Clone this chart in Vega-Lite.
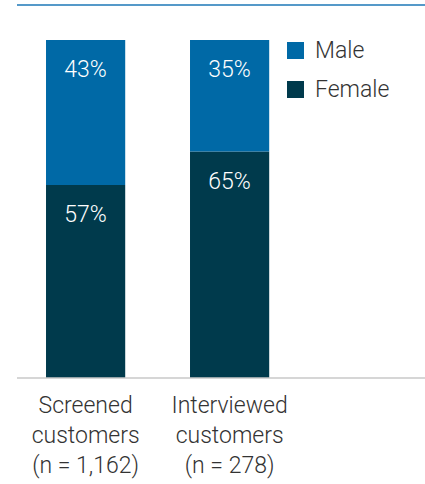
{
  "$schema": "https://vega.github.io/schema/vega-lite/v6.json",
  "autosize": {"type": "none"},
  "padding": {"left": 17, "top": 5, "right": 0, "bottom": 106},
  "width": 408,
  "height": 373,
  "background": "white",
  "config": {
    "view": {"stroke": null},
    "font": "Roboto"
  },
  "data": {
    "values": [
      {"group": "Screened customers (n = 1,162)", "sex": "Female", "share": 0.571, "label": "57%"},
      {"group": "Screened customers (n = 1,162)", "sex": "Male", "share": 0.429, "label": "43%"},
      {"group": "Interviewed customers (n = 278)", "sex": "Female", "share": 0.67, "label": "65%"},
      {"group": "Interviewed customers (n = 278)", "sex": "Male", "share": 0.33, "label": "35%"}
    ]
  },
  "transform": [
    {"stack": "share", "groupby": ["group"], "sort": [{"field": "sex", "order": "ascending"}], "as": ["y0", "y1"]}
  ],
  "encoding": {
    "x": {
      "field": "group",
      "type": "nominal",
      "sort": null,
      "scale": {"paddingInner": 0.45, "paddingOuter": 0.6417, "align": 0.157},
      "axis": {
        "title": null,
        "domain": false,
        "ticks": false,
        "labelAngle": 0,
        "labelFontSize": 23,
        "labelFontWeight": 300,
        "labelColor": "#333333",
        "labelPadding": 16,
        "labelLineHeight": 30,
        "labelLimit": 0,
        "labelExpr": "split(replace(datum.label, ' customers ', '|customers|'), '|')"
      }
    }
  },
  "layer": [
    {
      "mark": {"type": "bar"},
      "encoding": {
        "y": {"field": "y0", "type": "quantitative", "scale": {"domain": [0, 1.1036], "nice": false, "zero": true}, "axis": null},
        "y2": {"field": "y1"},
        "color": {
          "field": "sex",
          "type": "nominal",
          "scale": {"domain": ["Male", "Female"], "range": ["#0069a6", "#003a4c"]},
          "legend": {
            "title": null,
            "orient": "none",
            "legendX": 267,
            "legendY": 34,
            "padding": 0,
            "symbolType": "square",
            "symbolSize": 289,
            "symbolStrokeWidth": 0,
            "symbolOpacity": 1,
            "labelFontSize": 23,
            "labelFontWeight": 300,
            "labelColor": "#333333",
            "labelOffset": 8,
            "rowPadding": 15
          }
        }
      }
    },
    {
      "mark": {"type": "text", "color": "white", "fontSize": 23, "fontWeight": 300, "baseline": "top", "dy": 19},
      "encoding": {
        "y": {"field": "y1", "type": "quantitative"},
        "text": {"field": "label"}
      }
    },
    {
      "data": {"values": [{"v": 0}]},
      "mark": {"type": "rule", "color": "#c8c8c8", "strokeWidth": 1.5},
      "encoding": {"y": {"field": "v", "type": "quantitative"}, "x": null}
    },
    {
      "data": {"values": [{"v": 1.1036}]},
      "mark": {"type": "rule", "color": "#5599c9", "strokeWidth": 2},
      "encoding": {"y": {"field": "v", "type": "quantitative"}, "x": null}
    }
  ]
}
